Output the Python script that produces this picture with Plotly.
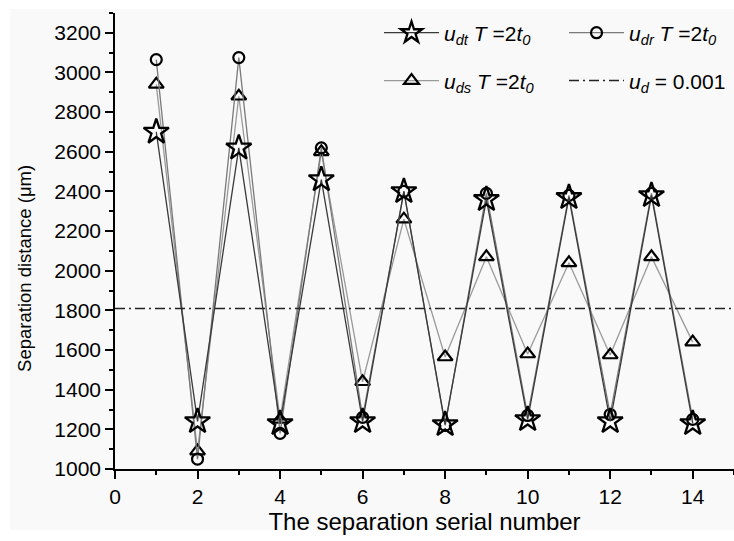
import plotly.graph_objects as go

serial = list(range(1, 15))
u_dt = [2700, 1240, 2620, 1230, 2460, 1240, 2400, 1225, 2360, 1250, 2370, 1240, 2380, 1230]
u_dr = [3065, 1050, 3075, 1180, 2620, 1260, 2400, 1220, 2390, 1270, 2380, 1275, 2390, 1250]
u_ds = [2940, 1090, 2880, 1250, 2600, 1440, 2260, 1565, 2070, 1580, 2040, 1575, 2070, 1640]
ud_level = 1810
x_line = [0, 15]

FONT = "Liberation Sans, Arial, sans-serif"
BG = "#f9f9f9"

fig = go.Figure()
fig.add_trace(go.Scatter(
    x=serial, y=u_ds, mode="lines+markers",
    name="<i>u<sub>ds</sub> T</i> =2<i>t<sub>0</sub></i>",
    line=dict(color="#9a9a9a", width=1.3),
    marker=dict(symbol="triangle-up-open", size=13, color="black", line=dict(width=2.2)),
    legend="legend3", showlegend=True))
fig.add_trace(go.Scatter(
    x=serial, y=u_dr, mode="lines+markers",
    name="<i>u<sub>dr</sub> T</i> =2<i>t<sub>0</sub></i>",
    line=dict(color="#7a7a7a", width=1.3),
    marker=dict(symbol="circle-open", size=11, color="black", line=dict(width=2.2)),
    legend="legend2", showlegend=True))
fig.add_trace(go.Scatter(
    x=serial, y=u_dt, mode="lines+markers",
    name="<i>u<sub>dt</sub> T</i> =2<i>t<sub>0</sub></i>",
    line=dict(color="#3a3a3a", width=1.3),
    marker=dict(symbol="star-open", size=19, color="black", line=dict(width=2.3)),
    legend="legend", showlegend=True))
fig.add_trace(go.Scatter(
    x=x_line, y=[ud_level, ud_level], mode="lines",
    name="<i>u<sub>d</sub></i> = 0.001",
    line=dict(color="#222222", width=1.5, dash="10px,4px,2px,4px"),
    legend="legend4", showlegend=True))

legend_common = dict(
    xanchor="left", yanchor="middle", itemwidth=55,
    bgcolor="rgba(0,0,0,0)", font=dict(family=FONT, size=21, color="black"),
)
col1, col2 = 0.4265, 0.7254
row1, row2 = 0.956, 0.851

fig.update_layout(
    width=734, height=541,
    margin=dict(l=115, r=0, t=13, b=72),
    paper_bgcolor="white", plot_bgcolor=BG,
    showlegend=True,
    font=dict(family=FONT, size=21, color="black"),
    legend=dict(x=col1, y=row1, visible=True, **legend_common),
    legend2=dict(x=col2, y=row1, **legend_common),
    legend3=dict(x=col1, y=row2, **legend_common),
    legend4=dict(x=col2, y=row2, **legend_common),
    xaxis=dict(
        range=[0, 15], tickvals=[0, 2, 4, 6, 8, 10, 12, 14],
        ticks="outside", ticklen=8, tickwidth=1.5, tickcolor="black",
        showline=True, linecolor="black", linewidth=1.5, showgrid=False, zeroline=False,
        minor=dict(dtick=1, ticks="outside", ticklen=4, tickwidth=1.5, tickcolor="black"),
        tickfont=dict(size=21), title=dict(text="The separation serial number", font=dict(size=24), standoff=5),
    ),
    yaxis=dict(
        range=[1000, 3300], tickvals=list(range(1000, 3201, 200)),
        ticks="outside", ticklen=8, tickwidth=1.5, tickcolor="black",
        showline=True, linecolor="black", linewidth=1.5, showgrid=False, zeroline=False,
        minor=dict(dtick=100, ticks="outside", ticklen=4, tickwidth=1.5, tickcolor="black"),
        tickfont=dict(size=21),
    ),
    shapes=[dict(
        type="rect", xref="paper", yref="paper", layer="below",
        x0=-0.1696, x1=1.0, y0=-0.134, y1=1.0088,
        fillcolor=BG, line=dict(width=0),
    )],
    annotations=[dict(
        text="Separation distance (μm)", textangle=-90, showarrow=False,
        xref="paper", yref="paper", x=-0.1454, y=0.441,
        xanchor="center", yanchor="middle", font=dict(size=18.5),
    )],
)

fig.write_html("out.html")
